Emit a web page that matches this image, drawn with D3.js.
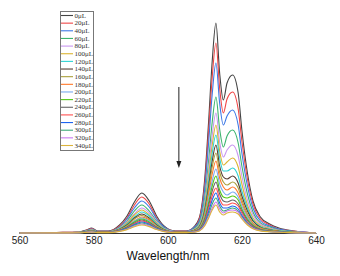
<!DOCTYPE html>
<html>
<head>
<meta charset="utf-8">
<script src="https://cdn.jsdelivr.net/npm/d3@7"></script>
<style>
  html, body { margin: 0; padding: 0; background: #fff; }
  svg { display: block; }
</style>
</head>
<body>
<svg id="chart"></svg>
<script>
// Emission spectra, intensity in arbitrary units
const wavelengths = [560, 570, 576, 578, 579.5, 581, 584, 587, 589, 591, 593, 595, 597, 599, 602, 605,
  607, 608.5, 610, 611, 612, 613, 614, 615, 616, 617.5, 619, 620, 621.5, 623, 625, 627.5, 630, 634, 640];

const labels = ["0μL", "20μL", "40μL", "60μL", "80μL", "100μL", "120μL", "140μL", "160μL",
  "180μL", "200μL", "220μL", "240μL", "260μL", "280μL", "300μL", "320μL", "340μL"];

const xTicks = [560, 580, 600, 620, 640];

const c0 = [0, .5, 1, 3, 5, 2, 2, 8, 17, 31, 40, 32, 17, 7, 2, 2, 6, 15, 55, 110, 172, 210, 160, 133, 150, 158, 140, 103, 60, 32, 16, 9, 5, 2, 0];
const c20 = [0, .5, 1, 2.7, 4.5, 1.8, 1.8, 7, 15, 28, 36, 29, 15, 6, 2, 2, 5, 14, 50, 100, 156, 190, 145, 120, 134, 141, 124, 92, 54, 29, 14, 8, 4, 2, 0];
const c40 = [0, .4, .8, 2.4, 4, 1.6, 1.6, 6, 14, 25, 32, 26, 14, 6, 1.6, 1.6, 5, 12, 45, 89, 139, 170, 130, 108, 117, 123, 108, 80, 47, 25, 12, 7, 4, 1.6, 0];
const c60 = [0, .4, .7, 2.1, 3.5, 1.4, 1.4, 5.6, 12, 22, 28, 22, 12, 5, 1.4, 1.4, 4, 10, 36, 71, 111, 136, 104, 86, 97, 103, 90, 67, 39, 21, 10, 6, 3, 1.3, 0];
const c80 = [0, .3, .6, 1.9, 3.1, 1.3, 1.3, 5, 11, 19, 25, 20, 11, 4.4, 1.3, 1.3, 3.4, 8.6, 31, 63, 98, 120, 91, 76, 83, 88, 77, 57, 33, 18, 9, 5, 2.8, 1.1, 0];
const c100 = [0, .3, .6, 1.7, 2.9, 1.2, 1.2, 4.6, 10, 18, 23, 18, 10, 4, 1.2, 1.2, 3.1, 7.7, 28, 57, 88, 108, 82, 68, 71, 75, 66, 49, 28, 15, 7.6, 4.3, 2.4, 1, 0];
const c120 = [0, .3, .5, 1.6, 2.6, 1.1, 1.1, 4.2, 9, 16, 21, 17, 9, 3.7, 1.1, 1.1, 2.8, 7, 26, 51, 80, 98, 75, 62, 62, 65, 57, 42, 25, 13, 6.6, 3.7, 2.1, .8, 0];
const c140 = [0, .2, .5, 1.4, 2.4, 1, 1, 3.8, 8, 15, 19, 15, 8, 3.3, 1, 1, 2.5, 6.3, 23, 46, 72, 88, 67, 56, 54, 57, 50, 37, 22, 12, 5.8, 3.2, 1.8, .7, 0];
const c160 = [0, .2, .4, 1.3, 2.2, .9, .9, 3.5, 7.4, 14, 17.5, 14, 7.4, 3, .9, .9, 2.3, 5.7, 21, 42, 66, 80, 61, 51, 48, 51, 45, 33, 19, 10, 5.2, 2.9, 1.6, .6, 0];
const c180 = [0, .2, .4, 1.2, 2, .8, .8, 3.2, 6.8, 12, 16, 13, 6.8, 2.8, .8, .8, 2.1, 5.1, 19, 38, 59, 72, 55, 46, 43, 46, 40, 30, 17, 9, 4.7, 2.6, 1.5, .6, 0];
const c200 = [0, .2, .4, 1.1, 1.9, .8, .8, 3, 6.4, 12, 15, 12, 6.4, 2.6, .8, .8, 1.8, 4.6, 17, 34, 52, 64, 49, 41, 38, 41, 36, 27, 16, 8, 4.1, 2.3, 1.3, .5, 0];
const c220 = [0, .2, .35, 1, 1.8, .7, .7, 2.8, 6, 11, 14, 11, 6, 2.5, .7, .7, 1.6, 4.1, 15, 30, 47, 57, 43, 36, 35, 37, 33, 24, 14, 7.5, 3.7, 2.1, 1.2, .5, 0];
const c240 = [0, .2, .3, 1, 1.6, .65, .65, 2.6, 5.5, 10, 13, 10, 5.5, 2.3, .65, .65, 1.5, 3.6, 13, 27, 42, 51, 39, 32, 31, 33, 29, 22, 12.5, 6.7, 3.3, 1.9, 1, .4, 0];
const c260 = [0, .15, .3, .9, 1.5, .6, .6, 2.4, 5.1, 9.3, 12, 9.6, 5.1, 2.1, .6, .6, 1.3, 3.2, 12, 24, 37, 45, 34, 28, 28, 30, 27, 20, 11, 6, 3, 1.7, 1, .4, 0];
const c280 = [0, .15, .3, .8, 1.4, .55, .55, 2.2, 4.7, 8.5, 11, 8.8, 4.7, 1.9, .55, .55, 1.1, 2.9, 10.5, 21, 33, 40, 30, 25, 25, 27, 24, 17.6, 10, 5.5, 2.7, 1.5, .9, .3, 0];
const c300 = [0, .1, .25, .75, 1.25, .5, .5, 2, 4.3, 7.8, 10, 8, 4.3, 1.8, .5, .5, 1, 2.5, 9.2, 18, 29, 35, 27, 22, 23, 25, 22, 16, 9.5, 5, 2.5, 1.4, .8, .3, 0];
const c320 = [0, .1, .2, .7, 1.1, .45, .45, 1.8, 3.8, 7, 9, 7.2, 3.8, 1.6, .45, .45, .9, 2.2, 8.1, 16, 25, 31, 24, 20, 22, 23, 21, 15, 8.8, 4.7, 2.3, 1.3, .7, .3, 0];
const c340 = [0, .1, .2, .6, 1, .4, .4, 1.6, 3.4, 6.2, 8, 6.4, 3.4, 1.4, .4, .4, .8, 2, 7.3, 14.6, 23, 28, 21, 18, 20, 21, 19, 14, 8, 4.3, 2.1, 1.2, .7, .3, 0];

const seriesValues = [c0, c20, c40, c60, c80, c100, c120, c140, c160, c180,
  c200, c220, c240, c260, c280, c300, c320, c340];

const colors = ["#444444", "#f04646", "#3c78e6", "#3cb46e", "#c896f0", "#dcb432",
  "#2ed2d2", "#553c32", "#aaa03c", "#ff7828", "#78aaf0", "#50c814",
  "#646464", "#ff5050", "#1e64f0", "#3caa78", "#c878f0", "#dcb43c"];

const width = 340, height = 276;
const margin = { top: 20, right: 24, bottom: 43, left: 19.5 };

const svg = d3.select("#chart")
  .attr("width", width)
  .attr("height", height);

const xScale = d3.scaleLinear()
  .domain([560, 640])
  .range([margin.left, width - margin.right]);

const yScale = d3.scaleLinear()
  .domain([0, 213])
  .range([height - margin.bottom, margin.top]);

// x axis, no tick marks, only labels
const xAxis = d3.axisBottom(xScale).tickValues(xTicks).tickSize(0).tickPadding(4);
const xAxisGroup = svg.append("g")
  .attr("class", "x-axis")
  .attr("transform", `translate(0,${height - margin.bottom})`)
  .call(xAxis);
xAxisGroup.select(".domain").attr("stroke", "#333").attr("stroke-width", 1);
xAxisGroup.selectAll("text")
  .attr("font-family", "Liberation Sans, Arial, sans-serif")
  .attr("font-size", 10)
  .attr("fill", "#222");

svg.append("text")
  .attr("x", 168)
  .attr("y", 259.5)
  .attr("text-anchor", "middle")
  .attr("font-family", "Liberation Sans, Arial, sans-serif")
  .attr("font-size", 12)
  .attr("fill", "#111")
  .text("Wavelength/nm");

const line = d3.line()
  .x((d, i) => xScale(wavelengths[i]))
  .y(d => yScale(d))
  .curve(d3.curveMonotoneX);

svg.append("g")
  .selectAll("path")
  .data(seriesValues)
  .join("path")
  .attr("d", line)
  .attr("fill", "none")
  .attr("stroke", (d, i) => colors[i])
  .attr("stroke-width", 1.1);

// arrow showing decreasing intensity
const arrowX = xScale(603);
svg.append("line")
  .attr("x1", arrowX).attr("x2", arrowX)
  .attr("y1", 87).attr("y2", 162)
  .attr("stroke", "#222")
  .attr("stroke-width", 1);
svg.append("path")
  .attr("d", `M${arrowX - 2.5},161 L${arrowX + 2.5},161 L${arrowX},168 Z`)
  .attr("fill", "#222");

// legend
const legend = svg.append("g").attr("class", "legend");
legend.append("rect")
  .attr("x", 60.5).attr("y", 11.5)
  .attr("width", 33).attr("height", 139)
  .attr("fill", "#fff")
  .attr("stroke", "#777")
  .attr("stroke-width", 1);

const legendY = d3.scalePoint()
  .domain(labels)
  .range([15.5, 145.5]);

const items = legend.selectAll("g.item")
  .data(labels)
  .join("g")
  .attr("class", "item")
  .attr("transform", d => `translate(0,${legendY(d)})`);

items.append("line")
  .attr("x1", 61).attr("x2", 73)
  .attr("stroke", (d, i) => colors[i])
  .attr("stroke-width", 1.1);

items.append("text")
  .attr("x", 74.5)
  .attr("y", 2.2)
  .attr("font-family", "Liberation Serif, Times New Roman, serif")
  .attr("font-size", 7)
  .attr("fill", "#333")
  .text(d => d);
</script>
</body>
</html>
